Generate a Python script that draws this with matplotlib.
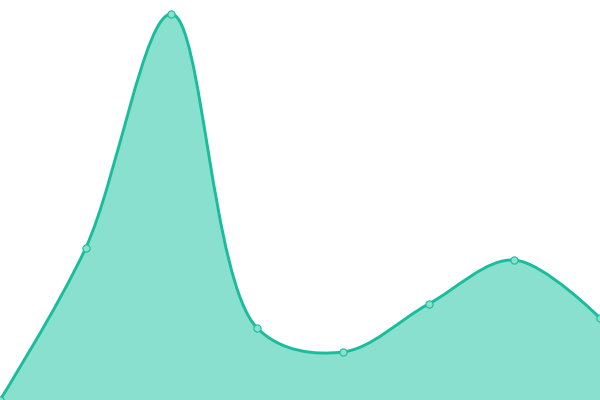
import math

import matplotlib

matplotlib.use("Agg")
import matplotlib.pyplot as plt
from matplotlib.path import Path
from matplotlib.patches import PathPatch

# values (bottom edge = 0, top edge = 400)
x_index = [0, 1, 2, 3, 4, 5, 6, 7]
values = [0, 152, 386, 72, 48, 96, 140, 82]

LINE_COLOR = "#1abc9c"
FILL_COLOR = "#8ae0cf"
WIDTH_PX, HEIGHT_PX = 600, 400


def catmull_rom_path(xs, ys, alpha=0.5):
    # centripetal catmull-rom (d3 curveCatmullRom), computed in pixel space
    sx = WIDTH_PX / (xs[-1] - xs[0])
    pts = [((x - xs[0]) * sx, y) for x, y in zip(xs, ys)]
    n = len(pts)

    def dist_a(a, b):
        d2 = (a[0] - b[0]) ** 2 + (a[1] - b[1]) ** 2
        return d2 ** (alpha / 2), d2 ** alpha

    verts = [pts[0]]
    codes = [Path.MOVETO]
    for i in range(n - 1):
        p1, p2 = pts[i], pts[i + 1]
        l12_a, l12_2a = dist_a(p1, p2)
        c1 = p1
        if i > 0:
            p0 = pts[i - 1]
            l01_a, l01_2a = dist_a(p0, p1)
            a = 2 * l01_2a + 3 * l01_a * l12_a + l12_2a
            m = 3 * l01_a * (l01_a + l12_a)
            c1 = ((p1[0] * a - p0[0] * l12_2a + p2[0] * l01_2a) / m,
                  (p1[1] * a - p0[1] * l12_2a + p2[1] * l01_2a) / m)
        c2 = p2
        if i + 2 < n:
            p3 = pts[i + 2]
            l23_a, l23_2a = dist_a(p2, p3)
            b = 2 * l23_2a + 3 * l23_a * l12_a + l12_2a
            m = 3 * l23_a * (l23_a + l12_a)
            c2 = ((p2[0] * b + p1[0] * l23_2a - p3[0] * l12_2a) / m,
                  (p2[1] * b + p1[1] * l23_2a - p3[1] * l12_2a) / m)
        verts.extend([c1, c2, p2])
        codes.extend([Path.CURVE4] * 3)
    verts = [(vx / sx + xs[0], vy) for vx, vy in verts]
    return verts, codes


fig = plt.figure(figsize=(6, 4), dpi=100)
ax = fig.add_axes([0, 0, 1, 1])
ax.set_xlim(x_index[0], x_index[-1])
ax.set_ylim(0, HEIGHT_PX)
ax.axis("off")

verts, codes = catmull_rom_path(x_index, values)

fill_verts = verts + [(x_index[-1], 0), (x_index[0], 0), verts[0]]
fill_codes = codes + [Path.LINETO, Path.LINETO, Path.CLOSEPOLY]
ax.add_patch(PathPatch(Path(fill_verts, fill_codes), facecolor=FILL_COLOR,
                       edgecolor="none", zorder=1))
ax.add_patch(PathPatch(Path(verts, codes), facecolor="none",
                       edgecolor=LINE_COLOR, linewidth=2.1, zorder=2,
                       capstyle="round", joinstyle="round"))

ax.plot(x_index, values, linestyle="none", marker="o", markersize=5.2,
        markerfacecolor=FILL_COLOR, markeredgecolor=LINE_COLOR,
        markeredgewidth=0.8, zorder=3, clip_on=False)

fig.savefig("out.png", dpi=100)
